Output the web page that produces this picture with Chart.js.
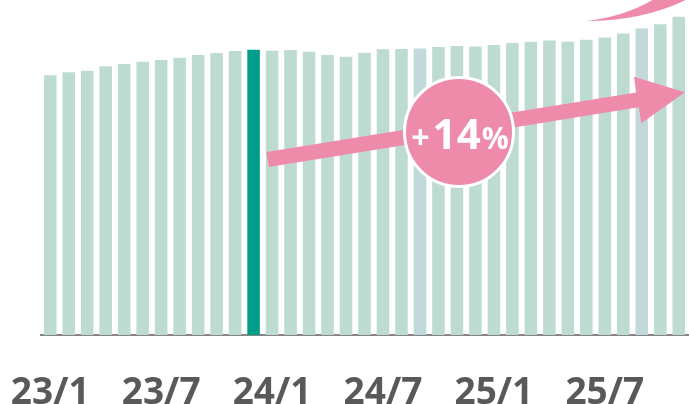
<!DOCTYPE html>
<html>
<head>
<meta charset="utf-8">
<script src="https://cdn.jsdelivr.net/npm/chart.js@4/dist/chart.umd.min.js"></script>
<style>
  html, body { margin: 0; padding: 0; background: #fff; overflow: hidden; }
  canvas { display: block; }
</style>
</head>
<body>
<canvas id="trend" width="689" height="404"></canvas>
<script>
var months = ['23/1', '23/2', '23/3', '23/4', '23/5', '23/6', '23/7', '23/8', '23/9', '23/10', '23/11', '23/12',
              '24/1', '24/2', '24/3', '24/4', '24/5', '24/6', '24/7', '24/8', '24/9', '24/10', '24/11', '24/12',
              '25/1', '25/2', '25/3', '25/4', '25/5', '25/6', '25/7', '25/8', '25/9', '25/10', '25/11'];

// Index, 23/12 = 100.
var values = [91.0, 92.1, 92.6, 94.2, 95.0, 95.8, 96.4, 97.2, 98.1, 98.8, 99.5, 100.0,
              99.6, 99.9, 99.3, 98.1, 97.5, 98.9, 100.1, 100.2, 100.4, 100.9, 101.3, 101.1,
              101.6, 102.3, 102.8, 103.2, 102.8, 103.5, 104.3, 105.7, 107.4, 108.9, 111.5];

var tickMonths = ['23/1', '23/7', '24/1', '24/7', '25/1', '25/7'];
var highlightMonth = '23/12';
var blueMonths = ['24/9', '25/9'];
var badgeText = ['+', '14', '%'];

var barColor = '#bedbd2';
var blueColor = '#c1d9da';
var highlightColor = '#009e8a';
var pink = '#ee8bab';

var colors = months.map(function (m) {
    if (m === highlightMonth) return highlightColor;
    if (blueMonths.indexOf(m) >= 0) return blueColor;
    return barColor;
});

////////////////////////////////////////////////////////////////////////////////
// Arrow, badge and the swoosh at the top.

var overlay = {
    id: 'overlay',
    afterDatasetsDraw: function (chart) {
        var ctx = chart.ctx;
        var x = chart.scales.x;
        var hi = months.indexOf(highlightMonth);

        // Straight arrow, from the highlighted bar to the right edge.
        var sx = x.getPixelForValue(hi) + 14, sy = 159.5;
        var tx = 685, ty = 92.3;
        var len = Math.hypot(tx - sx, ty - sy);
        var ux = (tx - sx) / len, uy = (ty - sy) / len;
        var nx = -uy, ny = ux;
        var half = 7.5, headLen = 48, headHalf = 23.5;
        var bx = tx - ux * headLen, by = ty - uy * headLen;
        ctx.save();
        ctx.fillStyle = pink;
        ctx.beginPath();
        ctx.moveTo(sx - nx * half, sy - ny * half);
        ctx.lineTo(bx - nx * half, by - ny * half);
        ctx.lineTo(bx - nx * headHalf, by - ny * headHalf);
        ctx.lineTo(tx, ty);
        ctx.lineTo(bx + nx * headHalf, by + ny * headHalf);
        ctx.lineTo(bx + nx * half, by + ny * half);
        ctx.lineTo(sx + nx * half, sy + ny * half);
        ctx.closePath();
        ctx.fill();

        // Swoosh cut by the top edge.
        ctx.beginPath();
        ctx.moveTo(586, 21);
        ctx.quadraticCurveTo(650, 21, 697, -6);
        ctx.lineTo(662, -6);
        ctx.quadraticCurveTo(630, 16, 586, 21);
        ctx.closePath();
        ctx.fill();

        // Badge.
        var cx = 459, cy = 132;
        ctx.beginPath();
        ctx.arc(cx, cy, 54.5, 0, Math.PI * 2);
        ctx.fillStyle = pink;
        ctx.fill();
        ctx.lineWidth = 3;
        ctx.strokeStyle = '#fff';
        ctx.stroke();

        var fonts = ['bold 32px "Open Sans"', 'bold 42px "Open Sans"', 'bold 30px "Open Sans"'];
        var gaps = [3, 1, 0];
        var widths = badgeText.map(function (t, i) {
            ctx.font = fonts[i];
            return ctx.measureText(t).width;
        });
        var total = widths[0] + widths[1] + widths[2] + gaps[0] + gaps[1];
        var px = cx + 1 - total / 2;
        ctx.fillStyle = '#fff';
        ctx.textBaseline = 'alphabetic';
        ctx.textAlign = 'left';
        badgeText.forEach(function (t, i) {
            ctx.font = fonts[i];
            ctx.fillText(t, px, 149);
            px += widths[i] + gaps[i];
        });
        ctx.restore();
    }
};

var ctx = document.getElementById('trend').getContext('2d');
var myChart = new Chart(ctx, {
    type: 'bar',
    data: {
        labels: months,
        datasets: [{
            data: values,
            backgroundColor: colors,
            borderWidth: 0,
            barPercentage: 0.68,
            categoryPercentage: 1
        }]
    },
    options: {
        responsive: false,
        animation: false,
        layout: {
            padding: { left: 41, right: 1, top: 0, bottom: 0 }
        },
        plugins: {
            legend: { display: false },
            tooltip: { enabled: false }
        },
        scales: {
            x: {
                grid: { display: false },
                border: { display: true, color: '#858585', width: 2 },
                ticks: {
                    autoSkip: false,
                    maxRotation: 0,
                    padding: 28,
                    color: '#595959',
                    font: { family: '"Open Sans"', size: 37, weight: 'bold' },
                    callback: function (v, i) {
                        var m = months[i];
                        return tickMonths.indexOf(m) >= 0 ? m : '';
                    }
                },
                // Fixed axis band, no extra room for the edge labels.
                afterFit: function (scale) {
                    scale.height = 69;
                    scale.paddingLeft = 0;
                    scale.paddingRight = 0;
                }
            },
            y: {
                display: false,
                min: 0,
                max: 117.4
            }
        }
    },
    plugins: [overlay]
});
</script>
</body>
</html>
